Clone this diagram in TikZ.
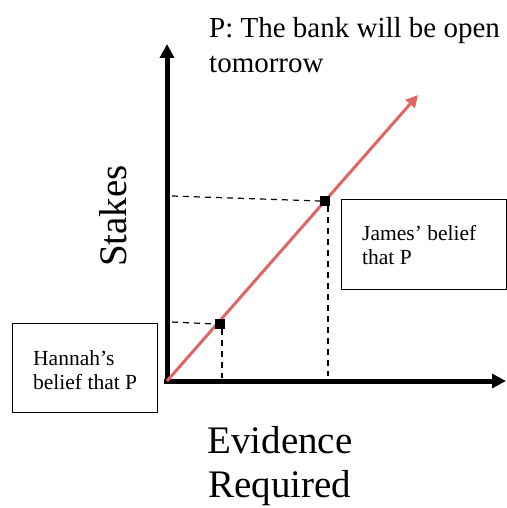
\documentclass[tikz,border=0pt]{standalone}
\usepackage{fontspec}
\setmainfont{Liberation Serif}
\usetikzlibrary{arrows.meta}
\begin{document}
\begin{tikzpicture}[x=1pt,y=-1pt,
  axis/.style={line width=5pt,-{Triangle[length=14pt,width=14pt]}},
  redline/.style={draw={rgb,255:red,224;green,102;blue,102},line width=3pt,-{Triangle[length=12pt,width=12pt]}},
  guide/.style={dashed,line width=1.2pt,dash pattern=on 6pt off 5pt},
  pt/.style={fill=black,minimum size=10pt,inner sep=0pt},
  box/.style={draw,line width=1pt,inner sep=0pt},
  lbl/.style={font=\fontsize{21.5}{24}\selectfont,align=left,inner sep=0pt},
  big/.style={font=\fontsize{39}{44}\selectfont,align=center,inner sep=0pt}]
\useasboundingbox (0,0) rectangle (506,508);
\coordinate (o) at (167,381);
\coordinate (ytop) at (167,44);
\coordinate (xend) at (506,381);
\coordinate (rend) at (418,95);
\draw[axis] (167,383) -- (ytop);
\draw[axis] (164,381) -- (xend);
\draw[redline] (o) -- (rend);
\node[pt] (p1) at (220,324) {};
\node[pt] (p2) at (325,201) {};
\coordinate (l1) at (172,322);
\coordinate (b1) at (222,378);
\coordinate (l2) at (172,196);
\coordinate (b2) at (328,376);
\draw[guide] (l1) -- (p1.west);
\draw[guide] (p1.south) ++(2,0) -- (b1);
\draw[guide] (l2) -- (p2.west);
\draw[guide] (p2.south) ++(3,0) -- (b2);
\draw[box] (12,323) rectangle (157,412);
\node[lbl,anchor=north west] (h) at (33,350.5) {Hannah’s\\belief that P};
\draw[box] (341,199) rectangle (506,289);
\node[lbl,anchor=north west] (j) at (362,225) {James’ belief\\that P};
\node[anchor=north west,font=\fontsize{29}{35}\selectfont,align=left,inner sep=0pt] (t) at (209,17) {P: The bank will be open\\tomorrow};
\node[big,rotate=90] (s) at (113,216) {Stakes};
\node[big] (e) at (280,466) {Evidence\\Required};
\end{tikzpicture}
\end{document}
